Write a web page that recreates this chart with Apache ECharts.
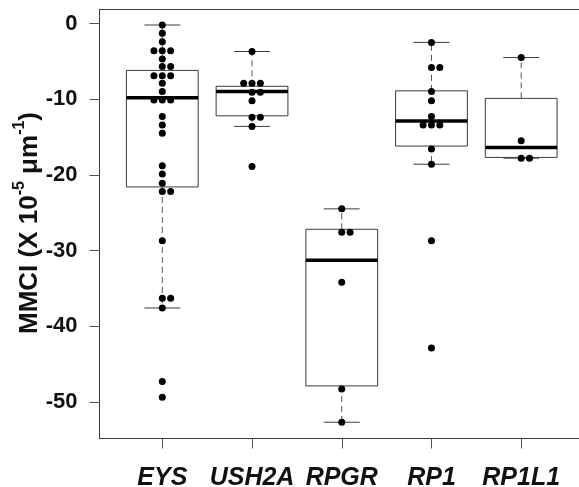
<!DOCTYPE html>
<html>
<head>
<meta charset="utf-8">
<script src="https://cdn.jsdelivr.net/npm/echarts@6/dist/echarts.min.js"></script>
<style>
html,body{margin:0;padding:0;background:#fff;}
#chart{width:579px;height:487px;}
</style>
</head>
<body>
<div id="chart"></div>
<script>
// ---- data ----
const categories = ['EYS', 'USH2A', 'RPGR', 'RP1', 'RP1L1'];
const yTicks = [0, -10, -20, -30, -40, -50];

// individual points per gene
const eysValues = [-0.2, -1.3, -2.4, -3.6, -3.6, -3.6, -4.7, -5.7, -5.7, -6.9, -6.9, -6.9, -7.9, -9.0,
  -10.1, -10.1, -10.1, -12.3, -13.4, -14.5, -18.8, -19.9, -21.1, -22.2, -22.2, -28.7, -36.3, -36.3,
  -37.6, -47.3, -49.4];
const ush2aValues = [-3.7, -7.9, -7.9, -7.9, -9.1, -9.1, -10.2, -12.4, -12.4, -13.6, -18.9];
const rpgrValues = [-24.5, -27.6, -27.6, -34.2, -48.3, -52.7];
const rp1Values = [-2.5, -5.8, -5.8, -9.0, -10.2, -12.3, -13.4, -13.4, -13.4, -16.6, -18.6, -28.7, -42.9];
const rp1l1Values = [-4.5, -15.5, -17.8, -17.8];

// box statistics [lower whisker, Q1, median, Q3, upper whisker]
const eysStats = [-37.6, -21.6, -9.8, -6.2, -0.2];
const ush2aStats = [-13.6, -12.2, -9.0, -8.3, -3.7];
const rpgrStats = [-52.7, -47.9, -31.3, -27.2, -24.5];
const rp1Stats = [-18.6, -16.2, -12.9, -8.9, -2.5];
const rp1l1Stats = [-17.8, -17.7, -16.4, -9.9, -4.5];

const allValues = [eysValues, ush2aValues, rpgrValues, rp1Values, rp1l1Values];
const allStats = [eysStats, ush2aStats, rpgrStats, rp1Stats, rp1l1Stats];

// ---- build series data ----
const SWARM_STEP = 0.093;
const scatterData = [];
allValues.forEach(function (vals, gi) {
  const pos = gi + 1;
  let i = 0;
  while (i < vals.length) {
    let j = i;
    while (j < vals.length && vals[j] === vals[i]) j++;
    const n = j - i;
    const offs = n === 1 ? [0] : (n === 2 ? [0, 1] : [-1, 0, 1, 2, -2].slice(0, n));
    for (let k = 0; k < n; k++) scatterData.push([pos + offs[k] * SWARM_STEP, vals[i + k]]);
    i = j;
  }
});
const boxData = allStats.map(function (s, gi) { return [gi + 1].concat(s); });

const X_MIN = 0.3, X_MAX = 5.7, Y_MIN = -54.85, Y_MAX = 1.85;

const chart = echarts.init(document.getElementById('chart'), null, { renderer: 'canvas' });
const LINE = '#3c3c3c';
const FONT = 'Liberation Sans, Arial, sans-serif';
const option = {
  animation: false,
  backgroundColor: '#fff',
  grid: {
    left: 99.5, top: 9.5, width: 484.5, height: 429,
    show: true, borderColor: LINE, borderWidth: 1, backgroundColor: 'transparent',
    outerBoundsMode: 'none', containLabel: false
  },
  xAxis: {
    type: 'value', min: X_MIN, max: X_MAX,
    position: 'bottom',
    splitLine: { show: false },
    axisLine: { show: true, onZero: false, lineStyle: { color: LINE, width: 1 } },
    axisTick: { show: true, length: 10, lineStyle: { color: '#555', width: 1 }, customValues: [1, 2, 3, 4, 5] },
    axisLabel: {
      customValues: [1, 2, 3, 4, 5],
      formatter: function (v) { return categories[Math.round(v) - 1] || ''; },
      fontFamily: FONT, fontWeight: 'bold', fontStyle: 'italic',
      fontSize: 25, color: '#111', margin: 27
    }
  },
  yAxis: {
    type: 'value', min: Y_MIN, max: Y_MAX,
    splitLine: { show: false },
    axisLine: { show: true, onZero: false, lineStyle: { color: LINE, width: 1 } },
    axisTick: { show: true, length: 10, lineStyle: { color: '#555', width: 1 }, customValues: yTicks },
    axisLabel: {
      customValues: yTicks,
      fontFamily: FONT, fontWeight: 'bold',
      fontSize: 22, color: '#111', margin: 22
    }
  },
  graphic: [{
    type: 'text',
    x: 27, y: 223,
    rotation: Math.PI / 2,
    style: {
      text: '{m|MMCI (X 10}{s|-5}{m| μm}{s|-1}{m|)}',
      align: 'center', verticalAlign: 'middle',
      fill: '#111',
      rich: {
        m: { fontFamily: FONT, fontWeight: 'bold', fontSize: 26, lineHeight: 31, verticalAlign: 'bottom', fill: '#111' },
        s: { fontFamily: FONT, fontWeight: 'bold', fontSize: 16, lineHeight: 31, verticalAlign: 'top', fill: '#111' }
      }
    }
  }],
  series: [{
    type: 'custom',
    data: boxData,
    z: 2,
    clip: false,
    renderItem: function (params, api) {
      const x = api.value(0);
      const lo = api.value(1), q1 = api.value(2), med = api.value(3), q3 = api.value(4), hi = api.value(5);
      const half = 0.4, cap = 0.2;
      const tl = api.coord([x - half, q3]);
      const br = api.coord([x + half, q1]);
      const c = function (xx, yy) { return api.coord([xx, yy]); };
      const line = function (a, b, style) {
        return { type: 'line', shape: { x1: a[0], y1: a[1], x2: b[0], y2: b[1] }, style: style };
      };
      const solid = { stroke: LINE, lineWidth: 1 };
      const dashed = { stroke: '#555', lineWidth: 1, lineDash: [6, 4] };
      const children = [
        line(c(x, q3), c(x, hi), dashed),
        line(c(x, q1), c(x, lo), dashed),
        line(c(x - cap, hi), c(x + cap, hi), solid),
        line(c(x - cap, lo), c(x + cap, lo), solid),
        { type: 'rect', shape: { x: tl[0], y: tl[1], width: br[0] - tl[0], height: br[1] - tl[1] },
          style: { fill: '#fff', stroke: LINE, lineWidth: 1 } },
        line(c(x - half, med), c(x + half, med), { stroke: '#000', lineWidth: 3.5 })
      ];
      if (params.dataIndex === 0) {
        // top frame line of the plot box
        children.push(line(c(X_MIN, Y_MAX), c(X_MAX, Y_MAX), { stroke: LINE, lineWidth: 1 }));
      }
      return { type: 'group', children: children };
    }
  }, {
    type: 'scatter',
    data: scatterData,
    symbol: 'circle',
    symbolSize: 7,
    z: 5,
    itemStyle: { color: '#000', opacity: 1 }
  }]
};
chart.setOption(option);
</script>
</body>
</html>
